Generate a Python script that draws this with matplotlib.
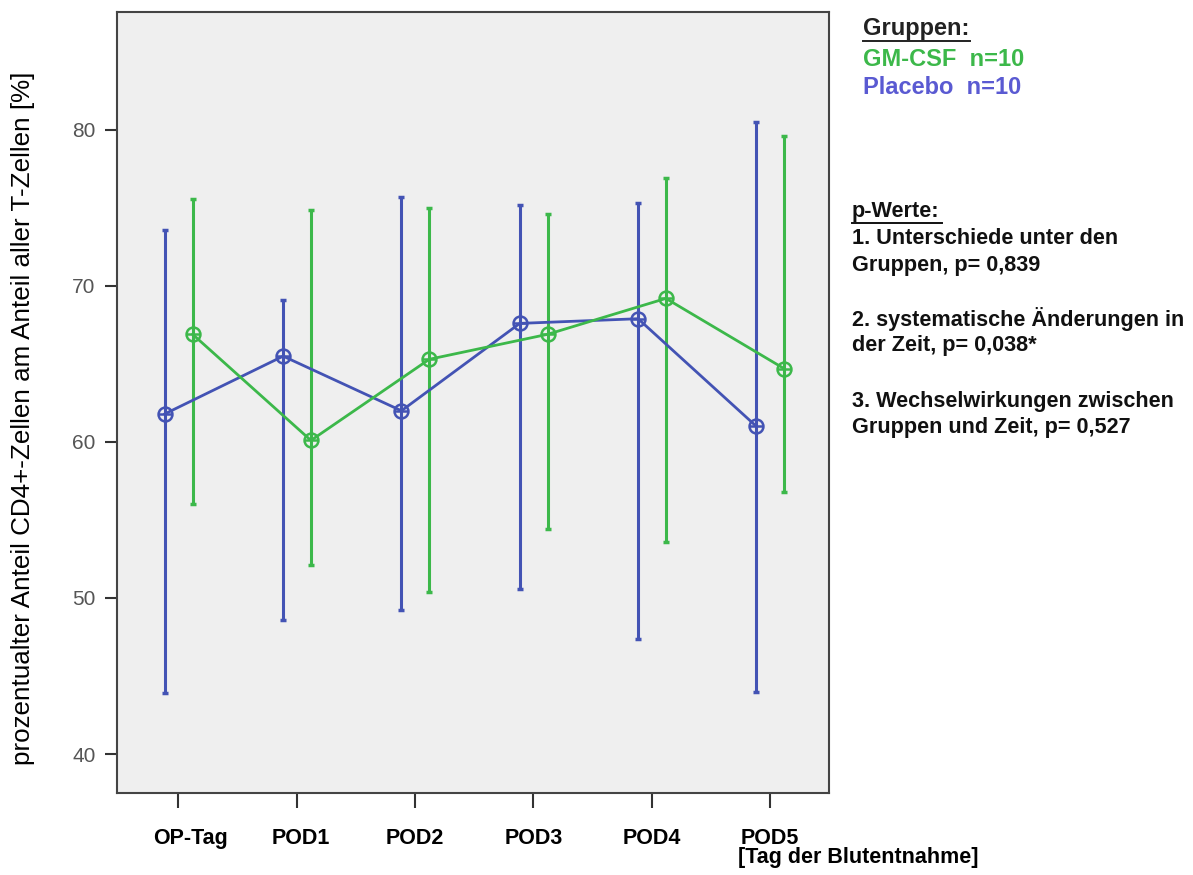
import numpy as np
import matplotlib.pyplot as plt
import matplotlib.transforms as mtransforms

plt.rcParams['font.family'] = ['Liberation Sans', 'DejaVu Sans']

# Data #
days = ['OP-Tag', 'POD1', 'POD2', 'POD3', 'POD4', 'POD5']

placebo_mean = [61.8, 65.5, 62.0, 67.6, 67.9, 61.0]
placebo_high = [73.6, 69.1, 75.7, 75.2, 75.3, 80.5]
placebo_low = [43.9, 48.6, 49.2, 50.6, 47.4, 44.0]

gmcsf_mean = [66.9, 60.1, 65.3, 66.9, 69.2, 64.7]
gmcsf_high = [75.6, 74.9, 75.0, 74.6, 76.9, 79.6]
gmcsf_low = [56.0, 52.1, 50.4, 54.4, 53.6, 56.8]

blue = '#4353b4'
green = '#3cb84a'

# Figure #
fig = plt.figure(figsize=(11.93, 8.75), dpi=100)
ax = fig.add_axes([0.098, 0.0937, 0.597, 0.8926])
ax.set_facecolor('#efefef')

x = np.arange(len(days))
groups = [
    (x - 0.115, placebo_mean, placebo_low, placebo_high, blue),
    (x + 0.12, gmcsf_mean, gmcsf_low, gmcsf_high, green),
]
for xs, m, lo, hi, c in groups:
    m = np.array(m)
    err = [m - np.array(lo), np.array(hi) - m]
    ax.errorbar(xs, m, yerr=err, fmt='none', ecolor=c, elinewidth=2.2,
                capsize=2.5, capthick=2.5, zorder=2)
    ax.plot(xs, m, '-', color=c, lw=2, zorder=3)
    ax.plot(xs, m, 'o', mfc='none', mec=c, mew=1.8, ms=10, zorder=4)
    ax.plot(xs, m, '_', mec=c, mew=1.8, ms=10, zorder=4)

ax.set_xlim(-0.52, 5.5)
ax.set_ylim(37.5, 87.56)
ax.set_yticks([40, 50, 60, 70, 80])
ax.set_xticks(x)
ax.set_xticklabels(days, fontweight='bold', fontsize=15.5)
ax.tick_params(axis='y', labelsize=15, labelcolor='#555555', length=9, width=1.5,
               color='#333333', pad=6.5)
ax.tick_params(axis='x', length=11, width=1.5, color='#333333', pad=14)
for s in ax.spines.values():
    s.set_color('#444444')
    s.set_linewidth(1.5)

# the first two day labels sit a little to the right of their ticks
for lab, dx in zip(ax.get_xticklabels()[:2], [12, 4]):
    lab.set_transform(lab.get_transform() +
                      mtransforms.ScaledTranslation(dx / 100, 0, fig.dpi_scale_trans))

ax.set_ylabel('prozentualter Anteil CD4+-Zellen am Anteil aller T-Zellen [%]',
              fontsize=18.7)
ax.yaxis.set_label_coords(-0.115, 0.4795)

fig.text(738 / 1193, 1 - 858 / 875, '[Tag der Blutentnahme]', fontsize=15.5,
         fontweight='bold', va='center', ha='left')

# Right-hand notes #
def ftext(px, py, s, size=15.6, **kw):
    fig.text(px / 1193, 1 - py / 875, s, va='center', ha='left',
             fontsize=size, fontweight='bold', **kw)

ftext(863, 28, 'Gruppen:', size=17, color='#222222')
fig.lines.append(plt.Line2D([863 / 1193, 970 / 1193], [1 - 41 / 875, 1 - 41 / 875],
                            color='#222222', lw=1.4, transform=fig.transFigure))
ftext(863, 59, 'GM-CSF  n=10', size=17, color=green)
ftext(863, 88, 'Placebo  n=10', size=17, color='#5a5ad2')

ftext(852, 211, 'p-Werte:', color='#111111')
fig.lines.append(plt.Line2D([852 / 1193, 942 / 1193], [1 - 223 / 875, 1 - 223 / 875],
                            color='#111111', lw=1.4, transform=fig.transFigure))
notes = [
    (238, '1. Unterschiede unter den'),
    (265, 'Gruppen, p= 0,839'),
    (319, '2. systematische \u00c4nderungen in'),
    (346, 'der Zeit, p= 0,038*'),
    (401, '3. Wechselwirkungen zwischen'),
    (428, 'Gruppen und Zeit, p= 0,527'),
]
for py, s in notes:
    ftext(852, py, s, color='#111111')

fig.savefig('out.png', dpi=100)
